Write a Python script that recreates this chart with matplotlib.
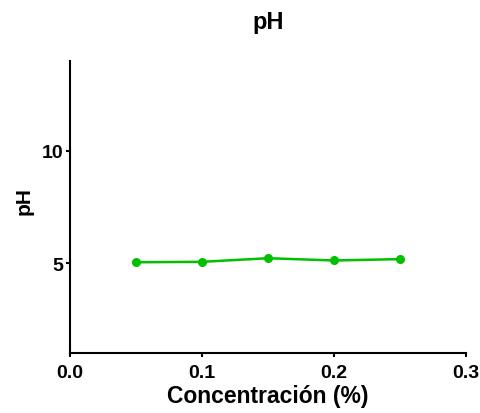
import numpy as np
import matplotlib
matplotlib.use('Agg')
import matplotlib.pyplot as plt

plt.rcParams['font.family'] = ['Liberation Sans', 'DejaVu Sans']
plt.rcParams['font.weight'] = 'bold'

conc = [0.05, 0.10, 0.15, 0.20, 0.25]
ph = [5.04, 5.06, 5.22, 5.12, 5.18]

fig = plt.figure(figsize=(4.8, 4.14), dpi=100)
ax = fig.add_axes([0.1458, 0.145, 0.8252, 0.705])

ax.plot(conc, ph, color='#00C000', lw=1.8, marker='o', ms=5.5, clip_on=False)

ax.set_xlim(0, 0.3)
ax.set_ylim(1, 14)
ax.set_xticks([0.0, 0.1, 0.2, 0.3])
ax.set_xticklabels(['0.0', '0.1', '0.2', '0.3'])
ax.set_yticks([5, 10])

for s in ['top', 'right']:
    ax.spines[s].set_visible(False)
for s in ['left', 'bottom']:
    ax.spines[s].set_linewidth(1.5)
ax.tick_params(width=1.5, length=3, labelsize=14, pad=2)
ax.tick_params(axis='x', pad=5)
for lbl in ax.get_xticklabels() + ax.get_yticklabels():
    lbl.set_fontweight('bold')

ax.set_xlabel('Concentración (%)', fontsize=16.5, fontweight='bold', labelpad=2)
ax.set_ylabel('pH', fontsize=15, fontweight='bold')
ax.yaxis.set_label_coords(-0.093, 0.524)
ax.set_title('pH', fontsize=17, fontweight='bold', pad=24)

fig.savefig('out.png', dpi=100)
